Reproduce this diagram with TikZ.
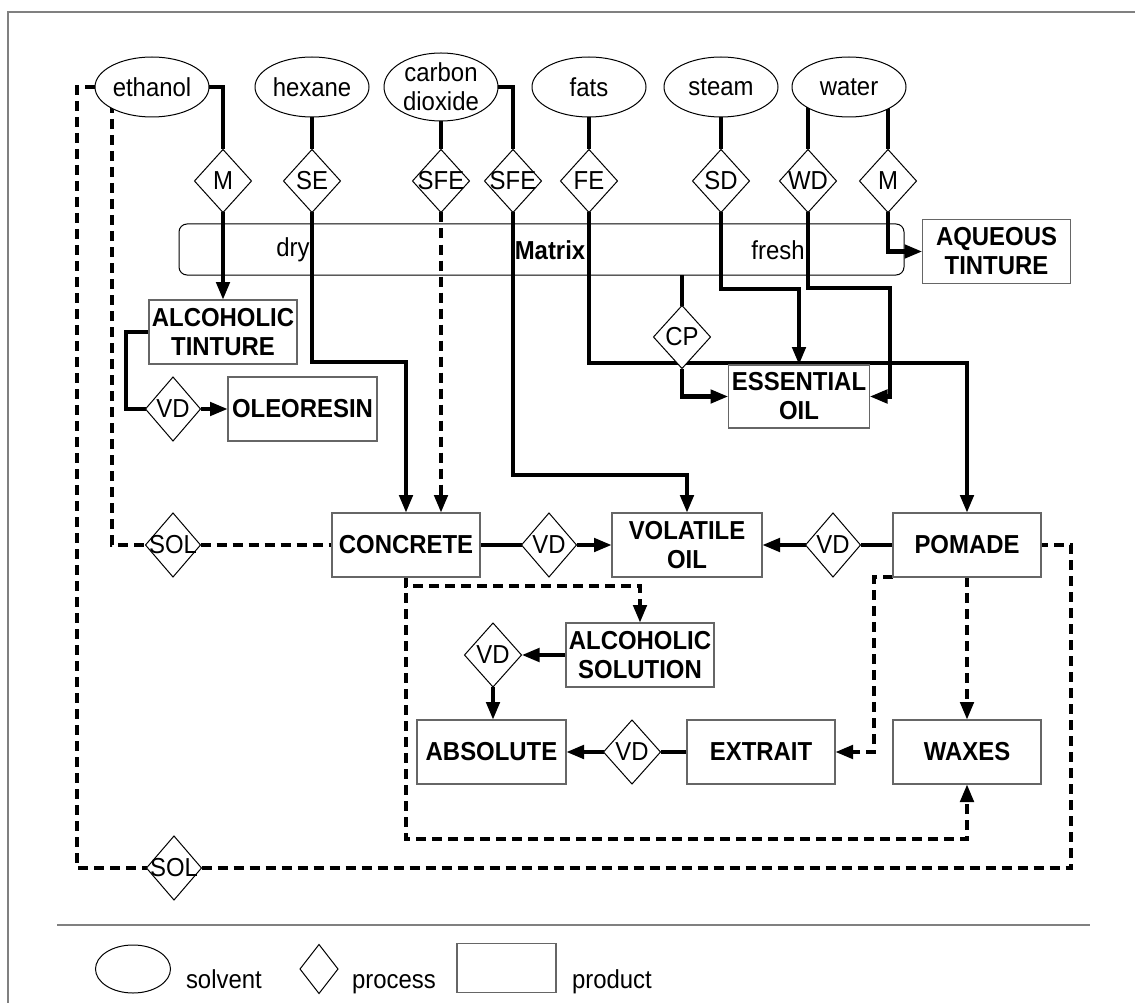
\documentclass[tikz,border=0pt]{standalone}
\usepackage{fontspec}
\setmainfont[FakeStretch=0.92]{Liberation Sans}
\usetikzlibrary{shapes.geometric,arrows.meta}
\pgfdeclarelayer{bg}
\pgfsetlayers{bg,main}
\begin{document}
\begin{tikzpicture}[x=1pt,y=-1pt,
  every node/.style={font=\fontsize{26}{29}\selectfont, inner sep=0pt, outer sep=0pt},
  solvent/.style={ellipse, draw, line width=1pt, fill=white, minimum width=114pt, minimum height=60pt, align=center},
  proc/.style={diamond, draw, line width=1pt, fill=white, minimum width=57pt, minimum height=63pt},
  prod/.style={rectangle, draw=black!60, line width=1.2pt, fill=white, minimum width=148pt, minimum height=64pt, align=center, font=\fontsize{26}{29}\selectfont\bfseries},
  flow/.style={line width=4.5pt},
  dline/.style={line width=4.5pt, dash pattern=on 10pt off 6pt},
  arr/.style={-{Triangle[width=13pt,length=18pt]}},
  frameline/.style={draw=black!50, line width=1.5pt},
]
\useasboundingbox (0,0) rectangle (1135,1003);
\begin{pgfonlayer}{bg}
\fill[white] (0,0) rectangle (1135,1003);
\end{pgfonlayer}
\draw[frameline] (8,1003) -- (8,12) -- (1135,12);

% solvents
\node[solvent] (ethanol) at (152,87) {ethanol};
\node[solvent] (hexane) at (312,87) {hexane};
\node[solvent] (co2) at (441,87) {carbon\\dioxide};
\node[solvent] (fats) at (589,87) {fats};
\node[solvent] (steam) at (721,87) {steam};
\node[solvent] (water) at (849,87) {water};

% top processes
\node[proc, label=center:M] (M1) at (223,181) {};
\node[proc, label=center:SE] (SE) at (312,181) {};
\node[proc, label=center:SFE] (SFE1) at (441,181) {};
\node[proc, label=center:SFE] (SFE2) at (513,181) {};
\node[proc, label=center:FE] (FE) at (589,181) {};
\node[proc, label=center:SD] (SD) at (721,181) {};
\node[proc, label=center:WD] (WD) at (808,181) {};
\node[proc, label=center:M] (M2) at (888,181) {};

% matrix texts
\node (dry) at (293,250) {dry};
\node[font=\fontsize{26}{29}\selectfont\bfseries] (mlab) at (550,250) {Matrix};
\node (fresh) at (778,250) {fresh};

% products
\node[prod] (AQUEOUS) at (996.5,251.5) {AQUEOUS\\TINTURE};
\node[prod] (ALCTIN) at (223,332) {ALCOHOLIC\\TINTURE};
\node[prod, minimum width=149pt] (OLEO) at (302.5,409) {OLEORESIN};
\node[prod, minimum width=141pt, minimum height=63pt] (ESSENTIAL) at (799,396.5) {ESSENTIAL\\OIL};
\node[prod] (CONCRETE) at (406,545) {CONCRETE};
\node[prod, minimum width=150pt] (VOLATILE) at (687,545) {VOLATILE\\OIL};
\node[prod] (POMADE) at (967,545) {POMADE};
\node[prod] (ALCSOL) at (640,655) {ALCOHOLIC\\SOLUTION};
\node[prod, minimum width=149pt] (ABSOLUTE) at (491.5,752) {ABSOLUTE};
\node[prod] (EXTRAIT) at (761,752) {EXTRAIT};
\node[prod] (WAXES) at (967,752) {WAXES};

% other processes
\node[proc, label=center:CP] (CP) at (682,337) {};
\node[proc, label=center:VD, minimum width=55pt, minimum height=64pt] (VD1) at (173,409) {};
\node[proc, label=center:SOL, minimum width=55pt, minimum height=64pt] (SOL1) at (173,545) {};
\node[proc, label=center:VD, minimum width=55pt, minimum height=64pt] (VD2) at (549,545) {};
\node[proc, label=center:VD, minimum width=55pt, minimum height=64pt] (VD3) at (833,545) {};
\node[proc, label=center:VD, minimum width=57pt, minimum height=64pt] (VD4) at (493,655) {};
\node[proc, label=center:VD, minimum width=57pt, minimum height=64pt] (VD5) at (632,752) {};
\node[proc, label=center:SOL, minimum width=55pt, minimum height=64pt] (SOL2) at (174,868) {};

% legend
\draw[frameline] (57,925) -- (1090,925);
\node[ellipse, draw, line width=1pt, minimum width=75pt, minimum height=48pt] (lgsolv) at (133,969) {};
\node[anchor=base west] (lgsolvt) at (186,988) {solvent};
\node[diamond, draw, line width=1pt, minimum width=38pt, minimum height=49pt] (lgproc) at (319,969) {};
\node[anchor=base west] (lgproct) at (352,988) {process};
\node[rectangle, draw=black!60, line width=1.2pt, minimum width=99pt, minimum height=49pt] (lgprod) at (506.5,968) {};
\node[anchor=base west] (lgprodt) at (572,988) {product};

\begin{pgfonlayer}{bg}
\node[draw, line width=1pt, rounded corners=8pt, minimum width=725pt, minimum height=51pt] (mtx) at (541.5,249.5) {};
% solid flows
\draw[flow] (ethanol.east) -| (M1.north);
\draw[flow,arr] (M1.south) -- (ALCTIN.north);
\draw[flow] (hexane.center) -- (SE.north);
\draw[flow,arr] (SE.south) |- (406,362) -- (CONCRETE.north);
\draw[flow] (co2.center) -- (SFE1.north);
\draw[dline,arr] (SFE1.south) -- (SFE1.south |- CONCRETE.north);
\draw[flow] (co2.east) -| (SFE2.north);
\draw[flow,arr] (SFE2.south) |- (687,475) -- (VOLATILE.north);
\draw[flow] (fats.center) -- (FE.north);
\draw[flow,arr] (FE.south) |- (967,363) -- (POMADE.north);
\draw[flow] (steam.center) -- (SD.north);
\draw[flow,arr] (SD.south) |- (799,289) -- (ESSENTIAL.north);
\draw[flow] (mtx.south -| CP.north) -- (CP.north);
\draw[flow,arr] (CP.south) |- (ESSENTIAL.west);
\draw[flow] ([xshift=-41pt]water.center) -- (WD.north);
\draw[flow,arr] (WD.south) |- (890,288) |- (ESSENTIAL.east);
\draw[flow] ([xshift=39pt]water.center) -- (M2.north);
\draw[flow,arr] (M2.south) |- (AQUEOUS.west);
\draw[flow] (ALCTIN.west) -- ++(-23,0) |- (VD1.west);
\draw[flow,arr] (VD1.east) -- (OLEO.west);
\draw[flow] (CONCRETE.east) -- (VD2.west);
\draw[flow,arr] (VD2.east) -- (VOLATILE.west);
\draw[flow] (POMADE.west) -- (VD3.east);
\draw[flow,arr] (VD3.west) -- (VOLATILE.east);
\draw[flow,arr] (ALCSOL.west) -- (VD4.east);
\draw[flow,arr] (VD4.south) -- (VD4.south |- ABSOLUTE.north);
\draw[flow] (EXTRAIT.west) -- (VD5.east);
\draw[flow,arr] (VD5.west) -- (ABSOLUTE.east);
% dashed flows
\draw[dline] (ethanol.west) -| (77,868) -- (SOL2.west);
\draw[dline] (SOL2.east) -| (1071,545) -- (POMADE.east);
\draw[dline] ([xshift=-40pt]ethanol.center) |- (SOL1.west);
\draw[dline] (SOL1.east) -- (CONCRETE.west);
\draw[dline,arr] (CONCRETE.south) |- (640,586) -- (ALCSOL.north);
\draw[dline,arr] (CONCRETE.south) |- (967,839) -- (WAXES.south);
\draw[dline,arr] (POMADE.south) -- (WAXES.north);
\draw[dline,arr] (POMADE.south west) -- ++(-19,0) |- (EXTRAIT.east);
\end{pgfonlayer}
\end{tikzpicture}
\end{document}
